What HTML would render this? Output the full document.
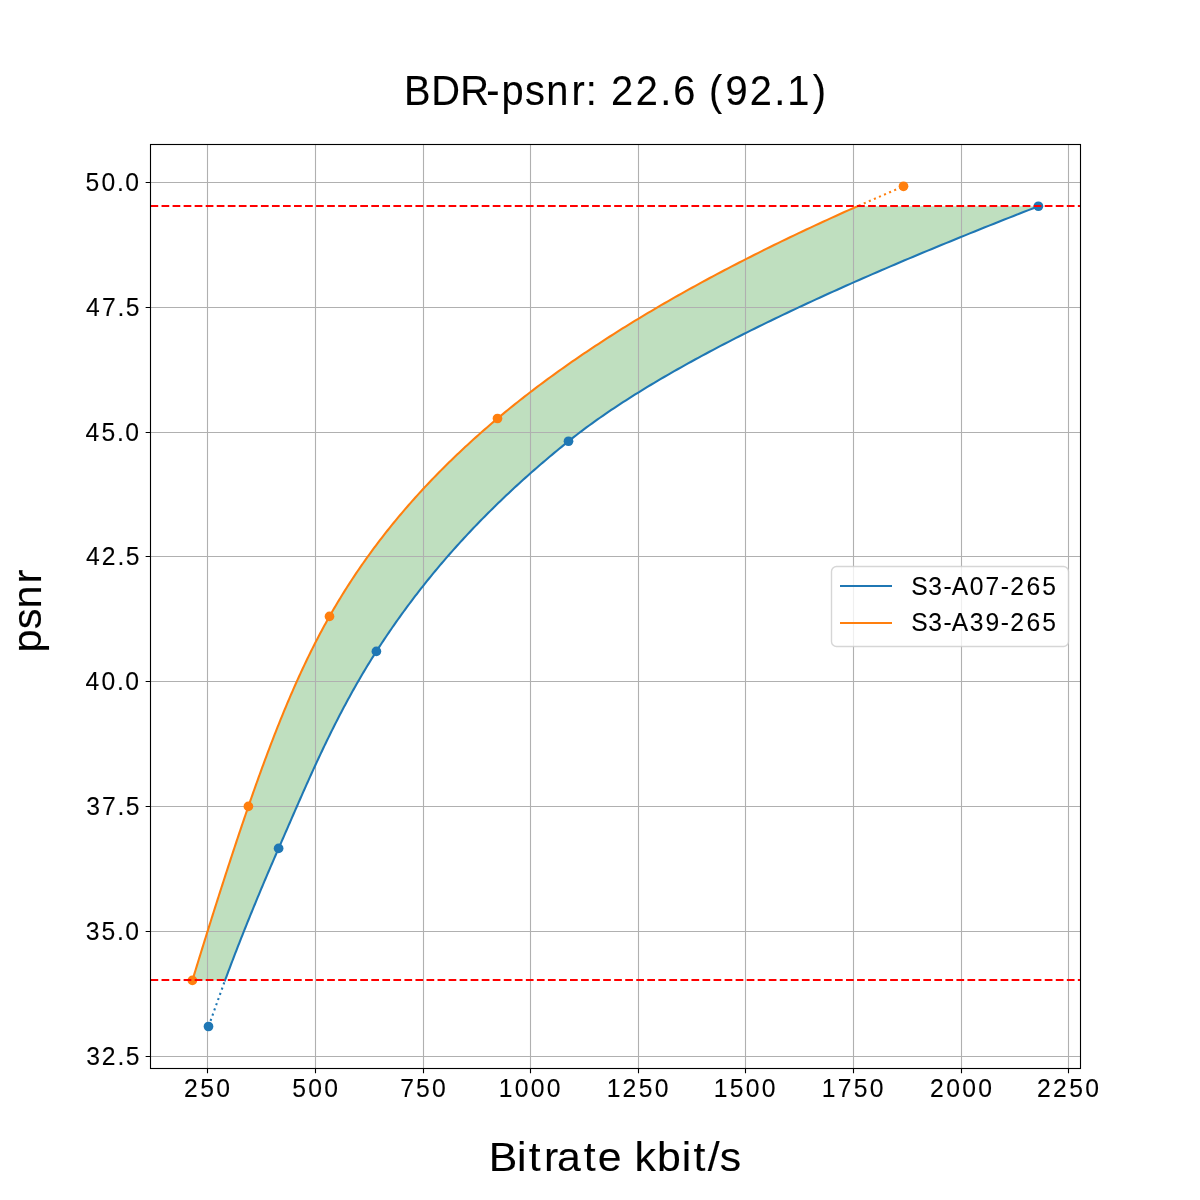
<!DOCTYPE html>
<html><head><meta charset="utf-8"><style>
html,body{margin:0;padding:0;background:#fff;}
svg{display:block;will-change:transform;}
text{font-family:"Liberation Sans", sans-serif;fill:#000;stroke:#000;stroke-width:0.1px;}
</style></head><body>
<svg width="1200" height="1200" viewBox="0 0 1200 1200">
<rect width="1200" height="1200" fill="#fff"/>
<path d="M192.40,980.40 L192.99,978.46 L193.58,976.52 L194.17,974.58 L194.77,972.64 L195.36,970.70 L195.95,968.76 L196.55,966.82 L197.14,964.88 L197.74,962.94 L198.34,961.00 L198.94,959.06 L199.54,957.12 L200.13,955.18 L200.73,953.24 L201.34,951.30 L201.94,949.36 L202.54,947.42 L203.14,945.48 L203.75,943.54 L204.35,941.60 L204.95,939.66 L205.56,937.72 L206.17,935.77 L206.77,933.83 L207.38,931.89 L207.99,929.95 L208.60,928.01 L209.21,926.07 L209.82,924.13 L210.43,922.19 L211.04,920.25 L211.65,918.31 L212.27,916.37 L212.88,914.43 L213.49,912.49 L214.11,910.55 L214.72,908.61 L215.34,906.67 L215.96,904.73 L216.58,902.79 L217.19,900.85 L217.81,898.91 L218.43,896.97 L219.05,895.03 L219.68,893.09 L220.30,891.15 L220.92,889.21 L221.54,887.27 L222.17,885.33 L222.79,883.39 L223.42,881.45 L224.05,879.51 L224.67,877.57 L225.30,875.63 L225.93,873.69 L226.56,871.75 L227.19,869.81 L227.82,867.87 L228.46,865.93 L229.09,863.99 L229.73,862.05 L230.36,860.11 L231.00,858.17 L231.63,856.23 L232.27,854.29 L232.91,852.35 L233.55,850.40 L234.19,848.46 L234.84,846.52 L235.48,844.58 L236.13,842.64 L236.77,840.70 L237.42,838.76 L238.07,836.82 L238.72,834.88 L239.37,832.94 L240.02,831.00 L240.67,829.06 L241.33,827.12 L241.98,825.18 L242.64,823.24 L243.30,821.30 L243.96,819.36 L244.62,817.42 L245.28,815.48 L245.94,813.54 L246.61,811.60 L247.28,809.66 L247.94,807.72 L248.61,805.78 L249.29,803.84 L249.96,801.90 L250.63,799.96 L251.31,798.02 L251.99,796.08 L252.67,794.14 L253.35,792.20 L254.04,790.26 L254.72,788.32 L255.41,786.38 L256.10,784.44 L256.79,782.50 L257.49,780.56 L258.18,778.62 L258.88,776.68 L259.58,774.74 L260.28,772.80 L260.99,770.86 L261.70,768.92 L262.41,766.98 L263.12,765.03 L263.83,763.09 L264.55,761.15 L265.27,759.21 L265.99,757.27 L266.71,755.33 L267.44,753.39 L268.17,751.45 L268.90,749.51 L269.64,747.57 L270.38,745.63 L271.12,743.69 L271.86,741.75 L272.61,739.81 L273.36,737.87 L274.11,735.93 L274.87,733.99 L275.63,732.05 L276.39,730.11 L277.16,728.17 L277.93,726.23 L278.71,724.29 L279.48,722.35 L280.26,720.41 L281.05,718.47 L281.84,716.53 L282.63,714.59 L283.42,712.65 L284.22,710.71 L285.03,708.77 L285.84,706.83 L286.65,704.89 L287.46,702.95 L288.29,701.01 L289.11,699.07 L289.94,697.13 L290.77,695.19 L291.61,693.25 L292.46,691.31 L293.30,689.37 L294.16,687.43 L295.01,685.49 L295.88,683.55 L296.74,681.61 L297.62,679.67 L298.50,677.72 L299.38,675.78 L300.27,673.84 L301.16,671.90 L302.06,669.96 L302.97,668.02 L303.88,666.08 L304.80,664.14 L305.72,662.20 L306.65,660.26 L307.59,658.32 L308.53,656.38 L309.48,654.44 L310.43,652.50 L311.39,650.56 L312.36,648.62 L313.33,646.68 L314.31,644.74 L315.30,642.80 L316.30,640.86 L317.30,638.92 L318.31,636.98 L319.33,635.04 L320.35,633.10 L321.38,631.16 L322.42,629.22 L323.47,627.28 L324.53,625.34 L325.59,623.40 L326.66,621.46 L327.75,619.52 L328.83,617.58 L329.93,615.64 L331.04,613.70 L332.15,611.76 L333.28,609.82 L334.41,607.88 L335.55,605.94 L336.71,604.00 L337.87,602.06 L339.03,600.12 L340.21,598.18 L341.40,596.24 L342.60,594.30 L343.80,592.35 L345.02,590.41 L346.24,588.47 L347.48,586.53 L348.72,584.59 L349.98,582.65 L351.24,580.71 L352.51,578.77 L353.80,576.83 L355.09,574.89 L356.39,572.95 L357.70,571.01 L359.03,569.07 L360.36,567.13 L361.70,565.19 L363.06,563.25 L364.42,561.31 L365.79,559.37 L367.18,557.43 L368.57,555.49 L369.98,553.55 L371.39,551.61 L372.82,549.67 L374.26,547.73 L375.70,545.79 L377.16,543.85 L378.63,541.91 L380.11,539.97 L381.60,538.03 L383.11,536.09 L384.62,534.15 L386.14,532.21 L387.68,530.27 L389.23,528.33 L390.79,526.39 L392.36,524.45 L393.94,522.51 L395.53,520.57 L397.14,518.63 L398.75,516.69 L400.38,514.75 L402.02,512.81 L403.68,510.87 L405.34,508.93 L407.02,506.98 L408.71,505.04 L410.41,503.10 L412.12,501.16 L413.85,499.22 L415.58,497.28 L417.33,495.34 L419.10,493.40 L420.87,491.46 L422.66,489.52 L424.46,487.58 L426.28,485.64 L428.10,483.70 L429.94,481.76 L431.80,479.82 L433.66,477.88 L435.54,475.94 L437.43,474.00 L439.34,472.06 L441.26,470.12 L443.19,468.18 L445.14,466.24 L447.10,464.30 L449.07,462.36 L451.06,460.42 L453.06,458.48 L455.07,456.54 L457.10,454.60 L459.15,452.66 L461.20,450.72 L463.28,448.78 L465.36,446.84 L467.46,444.90 L469.58,442.96 L471.71,441.02 L473.85,439.08 L476.01,437.14 L478.18,435.20 L480.37,433.26 L482.57,431.32 L484.79,429.38 L487.02,427.44 L489.27,425.50 L491.53,423.56 L493.81,421.62 L496.10,419.67 L498.41,417.73 L500.74,415.79 L503.08,413.85 L505.43,411.91 L507.80,409.97 L510.19,408.03 L512.59,406.09 L515.01,404.15 L517.45,402.21 L519.90,400.27 L522.36,398.33 L524.85,396.39 L527.35,394.45 L529.86,392.51 L532.40,390.57 L534.94,388.63 L537.51,386.69 L540.09,384.75 L542.69,382.81 L545.30,380.87 L547.94,378.93 L550.59,376.99 L553.25,375.05 L555.94,373.11 L558.64,371.17 L561.35,369.23 L564.09,367.29 L566.84,365.35 L569.61,363.41 L572.40,361.47 L575.20,359.53 L578.02,357.59 L580.86,355.65 L583.72,353.71 L586.60,351.77 L589.49,349.83 L592.40,347.89 L595.33,345.95 L598.28,344.01 L601.25,342.07 L604.23,340.13 L607.23,338.19 L610.26,336.25 L613.29,334.30 L616.35,332.36 L619.43,330.42 L622.52,328.48 L625.64,326.54 L628.77,324.60 L631.92,322.66 L635.09,320.72 L638.28,318.78 L641.49,316.84 L644.72,314.90 L647.96,312.96 L651.23,311.02 L654.51,309.08 L657.82,307.14 L661.14,305.20 L664.49,303.26 L667.85,301.32 L671.23,299.38 L674.63,297.44 L678.05,295.50 L681.49,293.56 L684.95,291.62 L688.44,289.68 L691.94,287.74 L695.46,285.80 L699.00,283.86 L702.56,281.92 L706.14,279.98 L709.74,278.04 L713.36,276.10 L717.00,274.16 L720.66,272.22 L724.34,270.28 L728.04,268.34 L731.76,266.40 L735.50,264.46 L739.27,262.52 L743.05,260.58 L746.85,258.64 L750.68,256.70 L754.52,254.76 L758.39,252.82 L762.27,250.88 L766.18,248.93 L770.11,246.99 L774.05,245.05 L778.02,243.11 L782.01,241.17 L786.02,239.23 L790.05,237.29 L794.10,235.35 L798.18,233.41 L802.27,231.47 L806.39,229.53 L810.52,227.59 L814.68,225.65 L818.85,223.71 L823.05,221.77 L827.27,219.83 L831.51,217.89 L835.77,215.95 L840.05,214.01 L844.36,212.07 L848.68,210.13 L853.03,208.19 L857.39,206.25 L1038.40,206.25 L1033.41,208.19 L1028.44,210.13 L1023.48,212.07 L1018.54,214.01 L1013.60,215.95 L1008.68,217.89 L1003.78,219.83 L998.88,221.77 L994.00,223.71 L989.14,225.65 L984.29,227.59 L979.45,229.53 L974.63,231.47 L969.82,233.41 L965.02,235.35 L960.24,237.29 L955.48,239.23 L950.73,241.17 L946.00,243.11 L941.28,245.05 L936.57,246.99 L931.89,248.93 L927.21,250.88 L922.56,252.82 L917.92,254.76 L913.29,256.70 L908.68,258.64 L904.09,260.58 L899.52,262.52 L894.96,264.46 L890.42,266.40 L885.89,268.34 L881.39,270.28 L876.90,272.22 L872.43,274.16 L867.97,276.10 L863.53,278.04 L859.11,279.98 L854.71,281.92 L850.33,283.86 L845.97,285.80 L841.62,287.74 L837.29,289.68 L832.98,291.62 L828.69,293.56 L824.42,295.50 L820.17,297.44 L815.94,299.38 L811.73,301.32 L807.53,303.26 L803.36,305.20 L799.20,307.14 L795.07,309.08 L790.96,311.02 L786.86,312.96 L782.79,314.90 L778.74,316.84 L774.71,318.78 L770.70,320.72 L766.71,322.66 L762.74,324.60 L758.79,326.54 L754.86,328.48 L750.96,330.42 L747.08,332.36 L743.22,334.30 L739.38,336.25 L735.56,338.19 L731.77,340.13 L728.00,342.07 L724.25,344.01 L720.52,345.95 L716.82,347.89 L713.14,349.83 L709.48,351.77 L705.85,353.71 L702.24,355.65 L698.65,357.59 L695.09,359.53 L691.55,361.47 L688.03,363.41 L684.54,365.35 L681.08,367.29 L677.64,369.23 L674.22,371.17 L670.83,373.11 L667.46,375.05 L664.12,376.99 L660.80,378.93 L657.51,380.87 L654.24,382.81 L651.00,384.75 L647.78,386.69 L644.59,388.63 L641.43,390.57 L638.29,392.51 L635.18,394.45 L632.10,396.39 L629.04,398.33 L626.01,400.27 L623.00,402.21 L620.03,404.15 L617.08,406.09 L614.15,408.03 L611.26,409.97 L608.39,411.91 L605.55,413.85 L602.74,415.79 L599.96,417.73 L597.20,419.67 L594.47,421.62 L591.77,423.56 L589.10,425.50 L586.46,427.44 L583.85,429.38 L581.27,431.32 L578.71,433.26 L576.19,435.20 L573.69,437.14 L571.23,439.08 L568.79,441.02 L566.38,442.96 L563.98,444.90 L561.60,446.84 L559.22,448.78 L556.87,450.72 L554.52,452.66 L552.20,454.60 L549.88,456.54 L547.58,458.48 L545.29,460.42 L543.01,462.36 L540.75,464.30 L538.50,466.24 L536.27,468.18 L534.05,470.12 L531.84,472.06 L529.64,474.00 L527.46,475.94 L525.29,477.88 L523.13,479.82 L520.99,481.76 L518.86,483.70 L516.74,485.64 L514.63,487.58 L512.54,489.52 L510.46,491.46 L508.39,493.40 L506.33,495.34 L504.29,497.28 L502.26,499.22 L500.24,501.16 L498.23,503.10 L496.24,505.04 L494.25,506.98 L492.28,508.93 L490.33,510.87 L488.38,512.81 L486.44,514.75 L484.52,516.69 L482.61,518.63 L480.71,520.57 L478.82,522.51 L476.95,524.45 L475.08,526.39 L473.23,528.33 L471.38,530.27 L469.55,532.21 L467.73,534.15 L465.93,536.09 L464.13,538.03 L462.34,539.97 L460.57,541.91 L458.80,543.85 L457.05,545.79 L455.31,547.73 L453.58,549.67 L451.85,551.61 L450.14,553.55 L448.44,555.49 L446.76,557.43 L445.08,559.37 L443.41,561.31 L441.75,563.25 L440.10,565.19 L438.47,567.13 L436.84,569.07 L435.22,571.01 L433.62,572.95 L432.02,574.89 L430.43,576.83 L428.86,578.77 L427.29,580.71 L425.73,582.65 L424.18,584.59 L422.65,586.53 L421.12,588.47 L419.60,590.41 L418.09,592.35 L416.59,594.30 L415.10,596.24 L413.62,598.18 L412.15,600.12 L410.68,602.06 L409.23,604.00 L407.79,605.94 L406.35,607.88 L404.92,609.82 L403.51,611.76 L402.10,613.70 L400.70,615.64 L399.31,617.58 L397.93,619.52 L396.55,621.46 L395.19,623.40 L393.83,625.34 L392.48,627.28 L391.14,629.22 L389.81,631.16 L388.49,633.10 L387.17,635.04 L385.86,636.98 L384.57,638.92 L383.27,640.86 L381.99,642.80 L380.72,644.74 L379.45,646.68 L378.19,648.62 L376.94,650.56 L375.69,652.50 L374.46,654.44 L373.23,656.38 L372.02,658.32 L370.81,660.26 L369.61,662.20 L368.41,664.14 L367.23,666.08 L366.05,668.02 L364.88,669.96 L363.72,671.90 L362.57,673.84 L361.43,675.78 L360.29,677.72 L359.16,679.67 L358.04,681.61 L356.92,683.55 L355.82,685.49 L354.71,687.43 L353.62,689.37 L352.53,691.31 L351.46,693.25 L350.38,695.19 L349.32,697.13 L348.26,699.07 L347.20,701.01 L346.16,702.95 L345.12,704.89 L344.08,706.83 L343.05,708.77 L342.03,710.71 L341.01,712.65 L340.00,714.59 L339.00,716.53 L338.00,718.47 L337.00,720.41 L336.01,722.35 L335.03,724.29 L334.05,726.23 L333.08,728.17 L332.11,730.11 L331.15,732.05 L330.19,733.99 L329.24,735.93 L328.29,737.87 L327.34,739.81 L326.40,741.75 L325.46,743.69 L324.53,745.63 L323.60,747.57 L322.68,749.51 L321.76,751.45 L320.84,753.39 L319.93,755.33 L319.02,757.27 L318.12,759.21 L317.22,761.15 L316.32,763.09 L315.42,765.03 L314.53,766.98 L313.64,768.92 L312.75,770.86 L311.87,772.80 L310.99,774.74 L310.11,776.68 L309.24,778.62 L308.36,780.56 L307.49,782.50 L306.62,784.44 L305.76,786.38 L304.89,788.32 L304.03,790.26 L303.17,792.20 L302.31,794.14 L301.45,796.08 L300.60,798.02 L299.74,799.96 L298.89,801.90 L298.04,803.84 L297.19,805.78 L296.34,807.72 L295.49,809.66 L294.64,811.60 L293.80,813.54 L292.95,815.48 L292.10,817.42 L291.26,819.36 L290.41,821.30 L289.57,823.24 L288.72,825.18 L287.88,827.12 L287.04,829.06 L286.19,831.00 L285.35,832.94 L284.50,834.88 L283.66,836.82 L282.81,838.76 L281.97,840.70 L281.12,842.64 L280.27,844.58 L279.42,846.52 L278.57,848.46 L277.72,850.40 L276.87,852.35 L276.03,854.29 L275.18,856.23 L274.34,858.17 L273.50,860.11 L272.66,862.05 L271.83,863.99 L270.99,865.93 L270.16,867.87 L269.32,869.81 L268.49,871.75 L267.67,873.69 L266.84,875.63 L266.01,877.57 L265.19,879.51 L264.37,881.45 L263.55,883.39 L262.73,885.33 L261.92,887.27 L261.10,889.21 L260.29,891.15 L259.48,893.09 L258.67,895.03 L257.87,896.97 L257.06,898.91 L256.26,900.85 L255.46,902.79 L254.66,904.73 L253.86,906.67 L253.07,908.61 L252.27,910.55 L251.48,912.49 L250.69,914.43 L249.90,916.37 L249.12,918.31 L248.33,920.25 L247.55,922.19 L246.77,924.13 L245.99,926.07 L245.22,928.01 L244.44,929.95 L243.67,931.89 L242.90,933.83 L242.13,935.77 L241.36,937.72 L240.60,939.66 L239.84,941.60 L239.08,943.54 L238.32,945.48 L237.56,947.42 L236.81,949.36 L236.06,951.30 L235.30,953.24 L234.56,955.18 L233.81,957.12 L233.07,959.06 L232.32,961.00 L231.58,962.94 L230.84,964.88 L230.11,966.82 L229.37,968.76 L228.64,970.70 L227.91,972.64 L227.18,974.58 L226.46,976.52 L225.74,978.46 L225.01,980.40 Z" fill="#008000" fill-opacity="0.25" stroke="none"/>
<path d="M207.5,144.5 V1068.5 M315.5,144.5 V1068.5 M423.5,144.5 V1068.5 M530.5,144.5 V1068.5 M638.5,144.5 V1068.5 M745.5,144.5 V1068.5 M853.5,144.5 V1068.5 M961.5,144.5 V1068.5 M1068.5,144.5 V1068.5 M150.5,182.5 H1080.5 M150.5,307.5 H1080.5 M150.5,432.5 H1080.5 M150.5,556.5 H1080.5 M150.5,681.5 H1080.5 M150.5,806.5 H1080.5 M150.5,931.5 H1080.5 M150.5,1056.5 H1080.5" stroke="#b0b0b0" stroke-width="1.11" fill="none"/>
<path d="M225.01,980.40 L225.74,978.46 L226.46,976.52 L227.18,974.58 L227.91,972.64 L228.64,970.70 L229.37,968.76 L230.11,966.82 L230.84,964.88 L231.58,962.94 L232.32,961.00 L233.07,959.06 L233.81,957.12 L234.56,955.18 L235.30,953.24 L236.06,951.30 L236.81,949.36 L237.56,947.42 L238.32,945.48 L239.08,943.54 L239.84,941.60 L240.60,939.66 L241.36,937.72 L242.13,935.77 L242.90,933.83 L243.67,931.89 L244.44,929.95 L245.22,928.01 L245.99,926.07 L246.77,924.13 L247.55,922.19 L248.33,920.25 L249.12,918.31 L249.90,916.37 L250.69,914.43 L251.48,912.49 L252.27,910.55 L253.07,908.61 L253.86,906.67 L254.66,904.73 L255.46,902.79 L256.26,900.85 L257.06,898.91 L257.87,896.97 L258.67,895.03 L259.48,893.09 L260.29,891.15 L261.10,889.21 L261.92,887.27 L262.73,885.33 L263.55,883.39 L264.37,881.45 L265.19,879.51 L266.01,877.57 L266.84,875.63 L267.67,873.69 L268.49,871.75 L269.32,869.81 L270.16,867.87 L270.99,865.93 L271.83,863.99 L272.66,862.05 L273.50,860.11 L274.34,858.17 L275.18,856.23 L276.03,854.29 L276.87,852.35 L277.72,850.40 L278.57,848.46 L279.42,846.52 L280.27,844.58 L281.12,842.64 L281.97,840.70 L282.81,838.76 L283.66,836.82 L284.50,834.88 L285.35,832.94 L286.19,831.00 L287.04,829.06 L287.88,827.12 L288.72,825.18 L289.57,823.24 L290.41,821.30 L291.26,819.36 L292.10,817.42 L292.95,815.48 L293.80,813.54 L294.64,811.60 L295.49,809.66 L296.34,807.72 L297.19,805.78 L298.04,803.84 L298.89,801.90 L299.74,799.96 L300.60,798.02 L301.45,796.08 L302.31,794.14 L303.17,792.20 L304.03,790.26 L304.89,788.32 L305.76,786.38 L306.62,784.44 L307.49,782.50 L308.36,780.56 L309.24,778.62 L310.11,776.68 L310.99,774.74 L311.87,772.80 L312.75,770.86 L313.64,768.92 L314.53,766.98 L315.42,765.03 L316.32,763.09 L317.22,761.15 L318.12,759.21 L319.02,757.27 L319.93,755.33 L320.84,753.39 L321.76,751.45 L322.68,749.51 L323.60,747.57 L324.53,745.63 L325.46,743.69 L326.40,741.75 L327.34,739.81 L328.29,737.87 L329.24,735.93 L330.19,733.99 L331.15,732.05 L332.11,730.11 L333.08,728.17 L334.05,726.23 L335.03,724.29 L336.01,722.35 L337.00,720.41 L338.00,718.47 L339.00,716.53 L340.00,714.59 L341.01,712.65 L342.03,710.71 L343.05,708.77 L344.08,706.83 L345.12,704.89 L346.16,702.95 L347.20,701.01 L348.26,699.07 L349.32,697.13 L350.38,695.19 L351.46,693.25 L352.53,691.31 L353.62,689.37 L354.71,687.43 L355.82,685.49 L356.92,683.55 L358.04,681.61 L359.16,679.67 L360.29,677.72 L361.43,675.78 L362.57,673.84 L363.72,671.90 L364.88,669.96 L366.05,668.02 L367.23,666.08 L368.41,664.14 L369.61,662.20 L370.81,660.26 L372.02,658.32 L373.23,656.38 L374.46,654.44 L375.69,652.50 L376.94,650.56 L378.19,648.62 L379.45,646.68 L380.72,644.74 L381.99,642.80 L383.27,640.86 L384.57,638.92 L385.86,636.98 L387.17,635.04 L388.49,633.10 L389.81,631.16 L391.14,629.22 L392.48,627.28 L393.83,625.34 L395.19,623.40 L396.55,621.46 L397.93,619.52 L399.31,617.58 L400.70,615.64 L402.10,613.70 L403.51,611.76 L404.92,609.82 L406.35,607.88 L407.79,605.94 L409.23,604.00 L410.68,602.06 L412.15,600.12 L413.62,598.18 L415.10,596.24 L416.59,594.30 L418.09,592.35 L419.60,590.41 L421.12,588.47 L422.65,586.53 L424.18,584.59 L425.73,582.65 L427.29,580.71 L428.86,578.77 L430.43,576.83 L432.02,574.89 L433.62,572.95 L435.22,571.01 L436.84,569.07 L438.47,567.13 L440.10,565.19 L441.75,563.25 L443.41,561.31 L445.08,559.37 L446.76,557.43 L448.44,555.49 L450.14,553.55 L451.85,551.61 L453.58,549.67 L455.31,547.73 L457.05,545.79 L458.80,543.85 L460.57,541.91 L462.34,539.97 L464.13,538.03 L465.93,536.09 L467.73,534.15 L469.55,532.21 L471.38,530.27 L473.23,528.33 L475.08,526.39 L476.95,524.45 L478.82,522.51 L480.71,520.57 L482.61,518.63 L484.52,516.69 L486.44,514.75 L488.38,512.81 L490.33,510.87 L492.28,508.93 L494.25,506.98 L496.24,505.04 L498.23,503.10 L500.24,501.16 L502.26,499.22 L504.29,497.28 L506.33,495.34 L508.39,493.40 L510.46,491.46 L512.54,489.52 L514.63,487.58 L516.74,485.64 L518.86,483.70 L520.99,481.76 L523.13,479.82 L525.29,477.88 L527.46,475.94 L529.64,474.00 L531.84,472.06 L534.05,470.12 L536.27,468.18 L538.50,466.24 L540.75,464.30 L543.01,462.36 L545.29,460.42 L547.58,458.48 L549.88,456.54 L552.20,454.60 L554.52,452.66 L556.87,450.72 L559.22,448.78 L561.60,446.84 L563.98,444.90 L566.38,442.96 L568.79,441.02 L571.23,439.08 L573.69,437.14 L576.19,435.20 L578.71,433.26 L581.27,431.32 L583.85,429.38 L586.46,427.44 L589.10,425.50 L591.77,423.56 L594.47,421.62 L597.20,419.67 L599.96,417.73 L602.74,415.79 L605.55,413.85 L608.39,411.91 L611.26,409.97 L614.15,408.03 L617.08,406.09 L620.03,404.15 L623.00,402.21 L626.01,400.27 L629.04,398.33 L632.10,396.39 L635.18,394.45 L638.29,392.51 L641.43,390.57 L644.59,388.63 L647.78,386.69 L651.00,384.75 L654.24,382.81 L657.51,380.87 L660.80,378.93 L664.12,376.99 L667.46,375.05 L670.83,373.11 L674.22,371.17 L677.64,369.23 L681.08,367.29 L684.54,365.35 L688.03,363.41 L691.55,361.47 L695.09,359.53 L698.65,357.59 L702.24,355.65 L705.85,353.71 L709.48,351.77 L713.14,349.83 L716.82,347.89 L720.52,345.95 L724.25,344.01 L728.00,342.07 L731.77,340.13 L735.56,338.19 L739.38,336.25 L743.22,334.30 L747.08,332.36 L750.96,330.42 L754.86,328.48 L758.79,326.54 L762.74,324.60 L766.71,322.66 L770.70,320.72 L774.71,318.78 L778.74,316.84 L782.79,314.90 L786.86,312.96 L790.96,311.02 L795.07,309.08 L799.20,307.14 L803.36,305.20 L807.53,303.26 L811.73,301.32 L815.94,299.38 L820.17,297.44 L824.42,295.50 L828.69,293.56 L832.98,291.62 L837.29,289.68 L841.62,287.74 L845.97,285.80 L850.33,283.86 L854.71,281.92 L859.11,279.98 L863.53,278.04 L867.97,276.10 L872.43,274.16 L876.90,272.22 L881.39,270.28 L885.89,268.34 L890.42,266.40 L894.96,264.46 L899.52,262.52 L904.09,260.58 L908.68,258.64 L913.29,256.70 L917.92,254.76 L922.56,252.82 L927.21,250.88 L931.89,248.93 L936.57,246.99 L941.28,245.05 L946.00,243.11 L950.73,241.17 L955.48,239.23 L960.24,237.29 L965.02,235.35 L969.82,233.41 L974.63,231.47 L979.45,229.53 L984.29,227.59 L989.14,225.65 L994.00,223.71 L998.88,221.77 L1003.78,219.83 L1008.68,217.89 L1013.60,215.95 L1018.54,214.01 L1023.48,212.07 L1028.44,210.13 L1033.41,208.19 L1038.40,206.25" stroke="#1f77b4" stroke-width="2.08" fill="none" stroke-linejoin="round" stroke-linecap="square"/>
<path d="M192.40,980.40 L192.99,978.46 L193.58,976.52 L194.17,974.58 L194.77,972.64 L195.36,970.70 L195.95,968.76 L196.55,966.82 L197.14,964.88 L197.74,962.94 L198.34,961.00 L198.94,959.06 L199.54,957.12 L200.13,955.18 L200.73,953.24 L201.34,951.30 L201.94,949.36 L202.54,947.42 L203.14,945.48 L203.75,943.54 L204.35,941.60 L204.95,939.66 L205.56,937.72 L206.17,935.77 L206.77,933.83 L207.38,931.89 L207.99,929.95 L208.60,928.01 L209.21,926.07 L209.82,924.13 L210.43,922.19 L211.04,920.25 L211.65,918.31 L212.27,916.37 L212.88,914.43 L213.49,912.49 L214.11,910.55 L214.72,908.61 L215.34,906.67 L215.96,904.73 L216.58,902.79 L217.19,900.85 L217.81,898.91 L218.43,896.97 L219.05,895.03 L219.68,893.09 L220.30,891.15 L220.92,889.21 L221.54,887.27 L222.17,885.33 L222.79,883.39 L223.42,881.45 L224.05,879.51 L224.67,877.57 L225.30,875.63 L225.93,873.69 L226.56,871.75 L227.19,869.81 L227.82,867.87 L228.46,865.93 L229.09,863.99 L229.73,862.05 L230.36,860.11 L231.00,858.17 L231.63,856.23 L232.27,854.29 L232.91,852.35 L233.55,850.40 L234.19,848.46 L234.84,846.52 L235.48,844.58 L236.13,842.64 L236.77,840.70 L237.42,838.76 L238.07,836.82 L238.72,834.88 L239.37,832.94 L240.02,831.00 L240.67,829.06 L241.33,827.12 L241.98,825.18 L242.64,823.24 L243.30,821.30 L243.96,819.36 L244.62,817.42 L245.28,815.48 L245.94,813.54 L246.61,811.60 L247.28,809.66 L247.94,807.72 L248.61,805.78 L249.29,803.84 L249.96,801.90 L250.63,799.96 L251.31,798.02 L251.99,796.08 L252.67,794.14 L253.35,792.20 L254.04,790.26 L254.72,788.32 L255.41,786.38 L256.10,784.44 L256.79,782.50 L257.49,780.56 L258.18,778.62 L258.88,776.68 L259.58,774.74 L260.28,772.80 L260.99,770.86 L261.70,768.92 L262.41,766.98 L263.12,765.03 L263.83,763.09 L264.55,761.15 L265.27,759.21 L265.99,757.27 L266.71,755.33 L267.44,753.39 L268.17,751.45 L268.90,749.51 L269.64,747.57 L270.38,745.63 L271.12,743.69 L271.86,741.75 L272.61,739.81 L273.36,737.87 L274.11,735.93 L274.87,733.99 L275.63,732.05 L276.39,730.11 L277.16,728.17 L277.93,726.23 L278.71,724.29 L279.48,722.35 L280.26,720.41 L281.05,718.47 L281.84,716.53 L282.63,714.59 L283.42,712.65 L284.22,710.71 L285.03,708.77 L285.84,706.83 L286.65,704.89 L287.46,702.95 L288.29,701.01 L289.11,699.07 L289.94,697.13 L290.77,695.19 L291.61,693.25 L292.46,691.31 L293.30,689.37 L294.16,687.43 L295.01,685.49 L295.88,683.55 L296.74,681.61 L297.62,679.67 L298.50,677.72 L299.38,675.78 L300.27,673.84 L301.16,671.90 L302.06,669.96 L302.97,668.02 L303.88,666.08 L304.80,664.14 L305.72,662.20 L306.65,660.26 L307.59,658.32 L308.53,656.38 L309.48,654.44 L310.43,652.50 L311.39,650.56 L312.36,648.62 L313.33,646.68 L314.31,644.74 L315.30,642.80 L316.30,640.86 L317.30,638.92 L318.31,636.98 L319.33,635.04 L320.35,633.10 L321.38,631.16 L322.42,629.22 L323.47,627.28 L324.53,625.34 L325.59,623.40 L326.66,621.46 L327.75,619.52 L328.83,617.58 L329.93,615.64 L331.04,613.70 L332.15,611.76 L333.28,609.82 L334.41,607.88 L335.55,605.94 L336.71,604.00 L337.87,602.06 L339.03,600.12 L340.21,598.18 L341.40,596.24 L342.60,594.30 L343.80,592.35 L345.02,590.41 L346.24,588.47 L347.48,586.53 L348.72,584.59 L349.98,582.65 L351.24,580.71 L352.51,578.77 L353.80,576.83 L355.09,574.89 L356.39,572.95 L357.70,571.01 L359.03,569.07 L360.36,567.13 L361.70,565.19 L363.06,563.25 L364.42,561.31 L365.79,559.37 L367.18,557.43 L368.57,555.49 L369.98,553.55 L371.39,551.61 L372.82,549.67 L374.26,547.73 L375.70,545.79 L377.16,543.85 L378.63,541.91 L380.11,539.97 L381.60,538.03 L383.11,536.09 L384.62,534.15 L386.14,532.21 L387.68,530.27 L389.23,528.33 L390.79,526.39 L392.36,524.45 L393.94,522.51 L395.53,520.57 L397.14,518.63 L398.75,516.69 L400.38,514.75 L402.02,512.81 L403.68,510.87 L405.34,508.93 L407.02,506.98 L408.71,505.04 L410.41,503.10 L412.12,501.16 L413.85,499.22 L415.58,497.28 L417.33,495.34 L419.10,493.40 L420.87,491.46 L422.66,489.52 L424.46,487.58 L426.28,485.64 L428.10,483.70 L429.94,481.76 L431.80,479.82 L433.66,477.88 L435.54,475.94 L437.43,474.00 L439.34,472.06 L441.26,470.12 L443.19,468.18 L445.14,466.24 L447.10,464.30 L449.07,462.36 L451.06,460.42 L453.06,458.48 L455.07,456.54 L457.10,454.60 L459.15,452.66 L461.20,450.72 L463.28,448.78 L465.36,446.84 L467.46,444.90 L469.58,442.96 L471.71,441.02 L473.85,439.08 L476.01,437.14 L478.18,435.20 L480.37,433.26 L482.57,431.32 L484.79,429.38 L487.02,427.44 L489.27,425.50 L491.53,423.56 L493.81,421.62 L496.10,419.67 L498.41,417.73 L500.74,415.79 L503.08,413.85 L505.43,411.91 L507.80,409.97 L510.19,408.03 L512.59,406.09 L515.01,404.15 L517.45,402.21 L519.90,400.27 L522.36,398.33 L524.85,396.39 L527.35,394.45 L529.86,392.51 L532.40,390.57 L534.94,388.63 L537.51,386.69 L540.09,384.75 L542.69,382.81 L545.30,380.87 L547.94,378.93 L550.59,376.99 L553.25,375.05 L555.94,373.11 L558.64,371.17 L561.35,369.23 L564.09,367.29 L566.84,365.35 L569.61,363.41 L572.40,361.47 L575.20,359.53 L578.02,357.59 L580.86,355.65 L583.72,353.71 L586.60,351.77 L589.49,349.83 L592.40,347.89 L595.33,345.95 L598.28,344.01 L601.25,342.07 L604.23,340.13 L607.23,338.19 L610.26,336.25 L613.29,334.30 L616.35,332.36 L619.43,330.42 L622.52,328.48 L625.64,326.54 L628.77,324.60 L631.92,322.66 L635.09,320.72 L638.28,318.78 L641.49,316.84 L644.72,314.90 L647.96,312.96 L651.23,311.02 L654.51,309.08 L657.82,307.14 L661.14,305.20 L664.49,303.26 L667.85,301.32 L671.23,299.38 L674.63,297.44 L678.05,295.50 L681.49,293.56 L684.95,291.62 L688.44,289.68 L691.94,287.74 L695.46,285.80 L699.00,283.86 L702.56,281.92 L706.14,279.98 L709.74,278.04 L713.36,276.10 L717.00,274.16 L720.66,272.22 L724.34,270.28 L728.04,268.34 L731.76,266.40 L735.50,264.46 L739.27,262.52 L743.05,260.58 L746.85,258.64 L750.68,256.70 L754.52,254.76 L758.39,252.82 L762.27,250.88 L766.18,248.93 L770.11,246.99 L774.05,245.05 L778.02,243.11 L782.01,241.17 L786.02,239.23 L790.05,237.29 L794.10,235.35 L798.18,233.41 L802.27,231.47 L806.39,229.53 L810.52,227.59 L814.68,225.65 L818.85,223.71 L823.05,221.77 L827.27,219.83 L831.51,217.89 L835.77,215.95 L840.05,214.01 L844.36,212.07 L848.68,210.13 L853.03,208.19 L857.39,206.25" stroke="#ff7f0e" stroke-width="2.08" fill="none" stroke-linejoin="round" stroke-linecap="square"/>
<path d="M208.5,1026.5 L225.01,980.40" stroke="#1f77b4" stroke-width="2.08" stroke-dasharray="2.08 3.44" stroke-dashoffset="-0.55" fill="none"/>
<path d="M857.39,206.25 L903.5,186.3" stroke="#ff7f0e" stroke-width="2.08" stroke-dasharray="2.08 3.44" stroke-dashoffset="-1.45" fill="none"/>
<circle cx="208.5" cy="1026.5" r="4.86" fill="#1f77b4"/>
<circle cx="278.6" cy="848.4" r="4.86" fill="#1f77b4"/>
<circle cx="376.4" cy="651.4" r="4.86" fill="#1f77b4"/>
<circle cx="568.5" cy="441.25" r="4.86" fill="#1f77b4"/>
<circle cx="1038.4" cy="206.25" r="4.86" fill="#1f77b4"/>
<circle cx="192.4" cy="980.4" r="4.86" fill="#ff7f0e"/>
<circle cx="248.4" cy="806.4" r="4.86" fill="#ff7f0e"/>
<circle cx="329.5" cy="616.4" r="4.86" fill="#ff7f0e"/>
<circle cx="497.5" cy="418.5" r="4.86" fill="#ff7f0e"/>
<circle cx="903.5" cy="186.3" r="4.86" fill="#ff7f0e"/>
<path d="M150.5,980.00 H1080.5" stroke="#ff0000" stroke-width="2.08" stroke-dasharray="7.71 3.33" fill="none"/>
<path d="M150.5,206.00 H1080.5" stroke="#ff0000" stroke-width="2.08" stroke-dasharray="7.71 3.33" fill="none"/>
<rect x="150.5" y="144.5" width="930.0" height="924.0" fill="none" stroke="#000" stroke-width="1.11"/>
<path d="M207.5,1068.5 v4.86 M315.5,1068.5 v4.86 M423.5,1068.5 v4.86 M530.5,1068.5 v4.86 M638.5,1068.5 v4.86 M745.5,1068.5 v4.86 M853.5,1068.5 v4.86 M961.5,1068.5 v4.86 M1068.5,1068.5 v4.86 M150.5,182.5 h-4.86 M150.5,307.5 h-4.86 M150.5,432.5 h-4.86 M150.5,556.5 h-4.86 M150.5,681.5 h-4.86 M150.5,806.5 h-4.86 M150.5,931.5 h-4.86 M150.5,1056.5 h-4.86" stroke="#000" stroke-width="1.11" fill="none"/>
<text transform="translate(0 105.25) scale(0.9487 1)" x="425.77 454.57 485.15 512.60 528.58 553.44 575.72 602.52 617.47 630.87 644.02 670.08 695.99 709.71 735.09 747.37 764.63 790.27 816.18 829.69 856.66" y="0" font-size="41.96">BDR-psnr: 22.6 (92.1)</text>
<text transform="translate(0 1171.1) scale(1.0329 1)" x="473.07 500.56 511.89 526.65 539.17 565.21 578.60 601.86 614.37 636.05 659.96 671.29 685.13 696.95" y="0" font-size="41.46">Bitrate kbit/s</text>
<text transform="translate(40.5 0) rotate(-90) scale(1.0306 1)" x="-633.06 -610.55 -590.56 -566.19" y="0" font-size="40.26">psnr</text>
<text transform="translate(0 190.8) scale(0.9300 1)" x="91.96 109.17 125.68 134.82" y="0" font-size="26.57">50.0</text>
<text transform="translate(0 315.8) scale(0.9300 1)" x="92.62 109.68 126.25 135.28" y="0" font-size="26.57">47.5</text>
<text transform="translate(0 440.8) scale(0.9300 1)" x="92.06 109.06 125.68 134.82" y="0" font-size="26.57">45.0</text>
<text transform="translate(0 564.8) scale(0.9300 1)" x="92.62 109.38 126.25 135.28" y="0" font-size="26.57">42.5</text>
<text transform="translate(0 689.8) scale(0.9300 1)" x="92.06 109.17 125.68 134.82" y="0" font-size="26.57">40.0</text>
<text transform="translate(0 814.8) scale(0.9300 1)" x="92.66 109.68 126.25 135.28" y="0" font-size="26.57">37.5</text>
<text transform="translate(0 939.8) scale(0.9300 1)" x="92.10 109.06 125.68 134.82" y="0" font-size="26.57">35.0</text>
<text transform="translate(0 1064.8) scale(0.9300 1)" x="92.66 109.38 126.25 135.28" y="0" font-size="26.57">32.5</text>
<text transform="translate(0 1097.0) scale(0.9300 1)" x="197.91 215.26 232.47" y="0" font-size="26.57">250</text>
<text transform="translate(0 1097.0) scale(0.9300 1)" x="314.23 331.44 348.54" y="0" font-size="26.57">500</text>
<text transform="translate(0 1097.0) scale(0.9300 1)" x="430.35 447.40 464.61" y="0" font-size="26.57">750</text>
<text transform="translate(0 1097.0) scale(0.9300 1)" x="536.41 553.63 570.73 587.84" y="0" font-size="26.57">1000</text>
<text transform="translate(0 1097.0) scale(0.9300 1)" x="652.54 669.41 686.76 703.97" y="0" font-size="26.57">1250</text>
<text transform="translate(0 1097.0) scale(0.9300 1)" x="767.59 784.71 801.92 819.02" y="0" font-size="26.57">1500</text>
<text transform="translate(0 1097.0) scale(0.9300 1)" x="883.72 900.89 917.94 935.15" y="0" font-size="26.57">1750</text>
<text transform="translate(0 1097.0) scale(0.9300 1)" x="1000.11 1017.56 1034.67 1051.77" y="0" font-size="26.57">2000</text>
<text transform="translate(0 1097.0) scale(0.9300 1)" x="1115.16 1132.26 1149.62 1166.82" y="0" font-size="26.57">2250</text>
<rect x="831.5" y="566.5" width="237" height="80" rx="5" fill="#fff" fill-opacity="0.8" stroke="#cccccc" stroke-opacity="0.8" stroke-width="1.39"/>
<path d="M840,586 H892" stroke="#1f77b4" stroke-width="2.08"/>
<path d="M840,623 H892" stroke="#ff7f0e" stroke-width="2.08"/>
<text transform="translate(0 595.1) scale(0.9300 1)" x="979.74 998.17 1014.50 1023.52 1042.74 1059.79 1076.21 1086.29 1103.76 1120.75" y="0" font-size="26.49">S3-A07-265</text>
<text transform="translate(0 631.3) scale(0.9300 1)" x="979.74 998.17 1014.50 1023.52 1042.77 1059.76 1076.21 1086.29 1103.76 1120.75" y="0" font-size="26.49">S3-A39-265</text>
</svg>
</body></html>
